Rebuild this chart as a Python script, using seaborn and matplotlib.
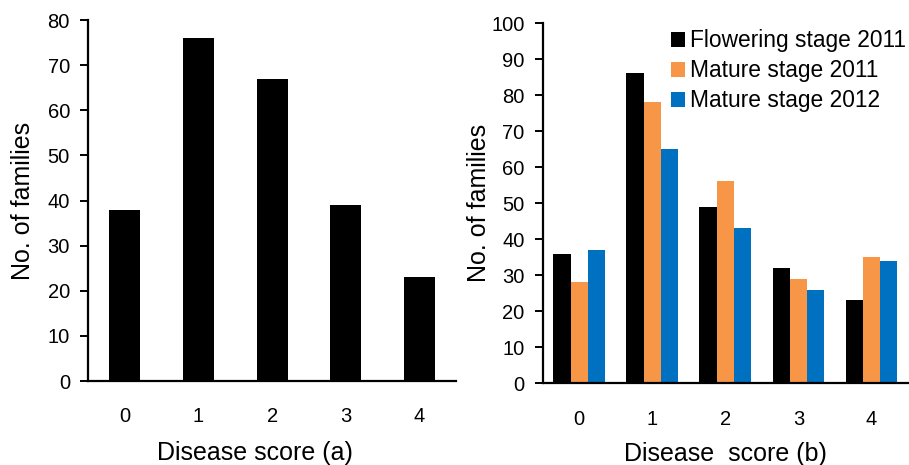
import matplotlib
matplotlib.use("Agg")
import matplotlib.pyplot as plt
from matplotlib import font_manager
import seaborn as sns
import pandas as pd

scores = ["0", "1", "2", "3", "4"]
families_a = [38, 76, 67, 39, 23]

series_names = ["Flowering stage 2011", "Mature stage 2011", "Mature stage 2012"]
flowering_2011 = [36, 86, 49, 32, 23]
mature_2011 = [28, 78, 56, 29, 35]
mature_2012 = [37, 65, 43, 26, 34]
colors = ["#000000", "#F79646", "#0070C0"]

# avoid the narrow variant being picked for "Liberation Sans"
font_manager.fontManager.ttflist = [
    f for f in font_manager.fontManager.ttflist
    if not (f.name == "Liberation Sans" and "narrow" in f.fname.lower())
]

sns.set_theme(style="white")
plt.rcParams['font.family'] = ['Liberation Sans', 'DejaVu Sans']
plt.rcParams['text.color'] = 'black'
plt.rcParams['axes.labelcolor'] = 'black'

fig = plt.figure(figsize=(9.09, 4.65), dpi=100)
ax1 = fig.add_axes([0.0968, 0.1806, 0.405, 0.776])
ax2 = fig.add_axes([0.597, 0.176, 0.402, 0.7745])

df_a = pd.DataFrame({"score": scores, "n": families_a})
sns.barplot(data=df_a, x="score", y="n", color="black", saturation=1,
            width=0.42, ax=ax1, edgecolor="none")

df_b = pd.DataFrame({
    "score": scores * 3,
    "n": flowering_2011 + mature_2011 + mature_2012,
    "series": [series_names[0]] * 5 + [series_names[1]] * 5 + [series_names[2]] * 5,
})
sns.barplot(data=df_b, x="score", y="n", hue="series", hue_order=series_names,
            palette=colors, saturation=1, width=0.71, ax=ax2, edgecolor="none")

for ax, ymax, xl, ylp in [(ax1, 80, "Disease score (a)", 9), (ax2, 100, "Disease  score (b)", 0)]:
    ax.set_xlim(-0.5, 4.5)
    ax.set_ylim(0, ymax)
    ax.set_yticks(range(0, ymax + 1, 10))
    ax.set_ylabel("No. of families", fontsize=18, labelpad=ylp, color="black")
    ax.set_xlabel(xl, fontsize=18, labelpad=10, color="black")
    for s in ["top", "right"]:
        ax.spines[s].set_visible(False)
    for s in ["left", "bottom"]:
        ax.spines[s].set_color("black")
        ax.spines[s].set_linewidth(1.6)
    ax.tick_params(axis="y", which="both", left=True, direction="out", length=6,
                   width=1.4, color="black", labelsize=14.5, pad=7, labelcolor="black")
    ax.tick_params(axis="x", bottom=False, labelsize=14.5, pad=13, labelcolor="black")

ax1.xaxis.set_label_coords(0.454, -0.165)

leg = ax2.legend(loc="upper right", bbox_to_anchor=(1.032, 1.02), frameon=False, fontsize=16.4,
                 handlelength=0.62, handleheight=0.62, handletextpad=0.22,
                 labelspacing=0.3, borderaxespad=0.2)
for t in leg.get_texts():
    t.set_color("black")

fig.savefig("out.png", dpi=100)
